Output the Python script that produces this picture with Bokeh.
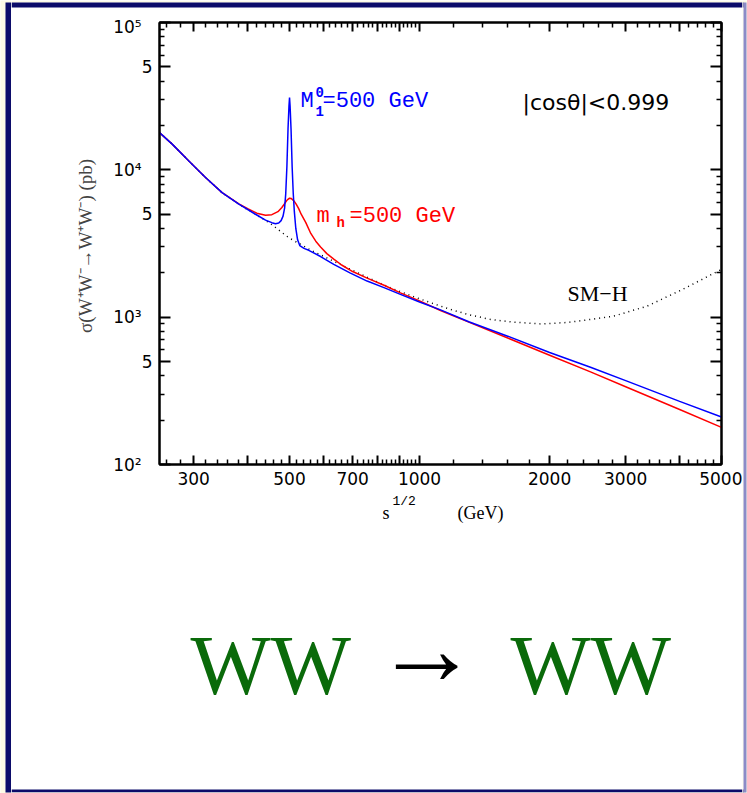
from bokeh.plotting import figure
from bokeh.layouts import row, column
from bokeh.models import (LogAxis, FixedTicker, Range1d, CustomJSTickFormatter,
                          Label)
from bokeh.embed import file_html
from bokeh.resources import INLINE

# sqrt(s) in GeV, cross sections in pb
sm_energy = [250, 267.5, 292, 319.5, 349, 381.6, 417, 450, 498, 559, 625, 692,
             770, 856, 960, 1079, 1179, 1300, 1460, 1650, 1905, 2200, 2487,
             2815, 3363, 4018, 4500, 5000]
sm_sigma = [17900, 14950, 11510, 8862, 7008, 5844, 4995, 4350, 3463, 2856,
            2440, 2111, 1820, 1582, 1390, 1232, 1128, 1040, 965, 925, 900, 920,
            965, 1016, 1188, 1519, 1800, 2111]

m1_energy = [250, 267.5, 292, 319.5, 349, 381.6, 417, 440, 455, 464, 472, 478,
             483, 487, 490, 493, 496, 498.5, 500, 501.5, 504, 507, 510, 513,
             517, 522, 528, 540, 554, 590, 633, 690, 756, 830, 903, 1000, 1118,
             1300, 1600, 2000, 2487, 3000, 4000, 5000]
m1_sigma = [17900, 14950, 11510, 8862, 7008, 5844, 4995, 4560, 4380, 4312,
            4360, 4520, 4850, 5500, 6900, 10500, 19000, 27000, 30900, 27000,
            19000, 10500, 6900, 5200, 4000, 3350, 3060, 2930, 2843, 2580, 2283,
            2000, 1758, 1580, 1427, 1268, 1120, 930, 743, 576, 457, 371, 268,
            210]

h_energy = [250, 267.5, 292, 319.5, 349, 381.6, 400, 420, 440, 455, 470, 480,
            488, 494, 500, 505, 512, 518, 525, 532, 545, 560, 575, 590, 610,
            633, 660, 700, 756, 830, 903, 1000, 1118, 1300, 1600, 2000, 2487,
            3000, 4000, 5000]
h_sigma = [17900, 14950, 11510, 8862, 7008, 5870, 5450, 5080, 4918, 4960, 5200,
           5550, 5950, 6250, 6420, 6380, 6150, 5850, 5450, 5000, 4400, 3700,
           3280, 2990, 2700, 2480, 2260, 2040, 1840, 1640, 1463, 1290, 1110,
           926, 722, 552, 425, 337, 236, 178.5]

x_major = [300, 400, 500, 600, 700, 800, 900, 1000, 2000, 3000, 4000, 5000]
x_labeled = [300, 500, 700, 1000, 2000, 3000, 5000]
x_minor = ([v for v in range(260, 1000, 20) if v % 100]
           + [v for v in range(1200, 5000, 200) if v % 1000])
y_major = [100, 500, 1000, 5000, 10000, 50000, 100000]
y_labels = ["10\u00b2\u2007", "5", "10\u00b3\u2007", "5",
            "10\u2074\u2007", "5", "10\u2075\u2007"]
y_minor = [m * d for d in (100, 1000, 10000) for m in (2, 3, 4, 6, 7, 8, 9)]

NAVY, LAVENDER, PALE, GREEN = "#0c0c6a", "#8c8cc8", "#fdfbe6", "#0a6a0a"

# page geometry (pixels): left strip, middle column, right strip
W, H = 747, 793
LEFT_W, RIGHT_W = 11, 5
MID_W = W - LEFT_W - RIGHT_W
TOP_H = 16
PLOT_BOTTOM = 492
FL, FR, FT, FB = 159, 721, 22, 464


def panel(w, h, x0, y0, bg="white"):
    """A plain drawing surface whose data units are page pixels."""
    f = figure(width=w, height=h, x_range=Range1d(x0, x0 + w),
               y_range=Range1d(y0 + h, y0), output_backend="svg",
               toolbar_location=None, x_axis_location=None,
               y_axis_location=None, min_border=0, title=None)
    f.frame_align = False
    f.grid.visible = False
    f.outline_line_color = None
    f.background_fill_color = bg
    f.border_fill_color = bg
    return f


def rect(f, l, r, t, b, c):
    f.quad(left=l, right=r, top=t, bottom=b, fill_color=c, line_color=None)


left_strip = panel(LEFT_W, H, 0, 0, PALE)
rect(left_strip, 5, 11, 2, 792, NAVY)

right_strip = panel(RIGHT_W, H, W - RIGHT_W, 0, PALE)
rect(right_strip, 742, 743, 7, 789, "white")
rect(right_strip, 742, 743, 2, 7, NAVY)
rect(right_strip, 742, 743, 789, 792, NAVY)
rect(right_strip, 743, 746, 2, 792, LAVENDER)

top_strip = panel(MID_W, TOP_H, LEFT_W, 0, "white")
rect(top_strip, LEFT_W, W - RIGHT_W, 0, 2, PALE)
rect(top_strip, LEFT_W, W - RIGHT_W, 2, 7, NAVY)

# main chart
p = figure(width=MID_W, height=PLOT_BOTTOM - TOP_H, x_axis_type="log",
           y_axis_type="log", x_range=Range1d(250, 5000),
           y_range=Range1d(100, 100000), output_backend="svg",
           toolbar_location=None, title=None,
           min_border_left=FL - LEFT_W, min_border_right=W - RIGHT_W - FR,
           min_border_top=FT - TOP_H, min_border_bottom=PLOT_BOTTOM - FB)
p.frame_align = False
p.grid.visible = False
p.border_fill_color = "white"
p.background_fill_color = "white"
p.outline_line_color = "black"
p.outline_line_width = 2

p.line(sm_energy, sm_sigma, line_color="black", line_width=1.5, line_dash="1 4")
p.line(h_energy, h_sigma, line_color="#ff0000", line_width=1.5)
p.line(m1_energy, m1_sigma, line_color="#0000ff", line_width=1.5)


def style_axis(ax, tick_in, labels):
    ax.axis_line_width = 2
    ax.major_tick_line_width = 2
    ax.minor_tick_line_width = 1.5
    ax.major_tick_out = 0
    ax.minor_tick_out = 0
    ax.major_tick_in = tick_in
    ax.minor_tick_in = 5
    ax.major_label_text_font = "DejaVu Sans"
    ax.major_label_text_color = "black"
    if labels:
        ax.major_label_text_font_size = "17px"
    else:
        ax.formatter = CustomJSTickFormatter(code="return ''")
        ax.major_label_text_font_size = "1px"
        ax.major_label_standoff = 0


xt = FixedTicker(ticks=x_major, minor_ticks=x_minor)
yt = FixedTicker(ticks=y_major, minor_ticks=y_minor)

xa = p.xaxis[0]
xa.ticker = xt
style_axis(xa, 9, True)
xa.major_label_overrides = {v: (str(v) if v in x_labeled else "") for v in x_major}
xa.major_label_standoff = 7

ya = p.yaxis[0]
ya.ticker = yt
style_axis(ya, 11, True)
ya.major_label_overrides = dict(zip(y_major, y_labels))
ya.major_label_standoff = 7
ya.axis_label = "\u03c3(W\u207aW\u207b\u2192W\u207aW\u207b)  (pb)"
ya.axis_label_text_font = "Liberation Serif"
ya.axis_label_text_font_size = "19px"
ya.axis_label_text_font_style = "normal"
ya.axis_label_standoff = 14

top_ax = LogAxis(ticker=xt)
style_axis(top_ax, 9, False)
p.add_layout(top_ax, "above")
right_ax = LogAxis(ticker=yt)
style_axis(right_ax, 11, False)
p.add_layout(right_ax, "right")


def put(fig, text, x, y, size, color="black", font="Liberation Mono",
        units="canvas", align="left", style="normal"):
    """Text whose vertical position is the middle of its line box."""
    fig.add_layout(Label(x=x, y=y, x_units=units, y_units=units, text=text,
                         text_font=font, text_font_size=f"{size}px",
                         text_color=color, text_align=align,
                         text_baseline="middle", text_font_style=style))


# curve annotations (canvas pixels of the chart)
oy = TOP_H
put(p, "M", 289, 100.5 - oy, 22, "#0000ff")
put(p, "0", 304, 91.5 - oy, 14, "#0000ff", style="bold")
put(p, "1", 304, 110 - oy, 14, "#0000ff", style="bold")
put(p, "=500 GeV", 311, 100.5 - oy, 22, "#0000ff")
put(p, "m", 305, 215.5 - oy, 22, "#ff0000")
put(p, "h", 325, 222 - oy, 14, "#ff0000", style="bold")
put(p, "=500 GeV", 338, 215.5 - oy, 22, "#ff0000")
put(p, "|cos\u03b8|<0.999", 511, 102 - oy, 22, font="DejaVu Sans")
put(p, "SM\u2212H", 556, 292.5 - oy, 22, font="Liberation Serif")

# lower panel: x-axis title, process caption and bottom of the page frame
cap = panel(MID_W, H - PLOT_BOTTOM, LEFT_W, PLOT_BOTTOM)
rect(cap, LEFT_W, W - RIGHT_W, 789, 792, NAVY)
rect(cap, LEFT_W, W - RIGHT_W, 792, 793, PALE)

put(cap, "s", 382, 512, 18, font="Liberation Serif", units="data")
put(cap, "1/2", 392, 500.5, 13, font="Liberation Mono", units="data")
put(cap, "(GeV)", 457, 512, 18, font="Liberation Serif", units="data")
put(cap, "WW", 190, 664.5, 85, GREEN, font="Liberation Serif", units="data")
put(cap, "\u2192", 426, 648, 104, font="Liberation Serif", units="data",
    align="center")
put(cap, "WW", 510, 664.5, 85, GREEN, font="Liberation Serif", units="data")

page = row(left_strip, column(top_strip, p, cap), right_strip)

open("out.html", "w").write(file_html(page, INLINE))
